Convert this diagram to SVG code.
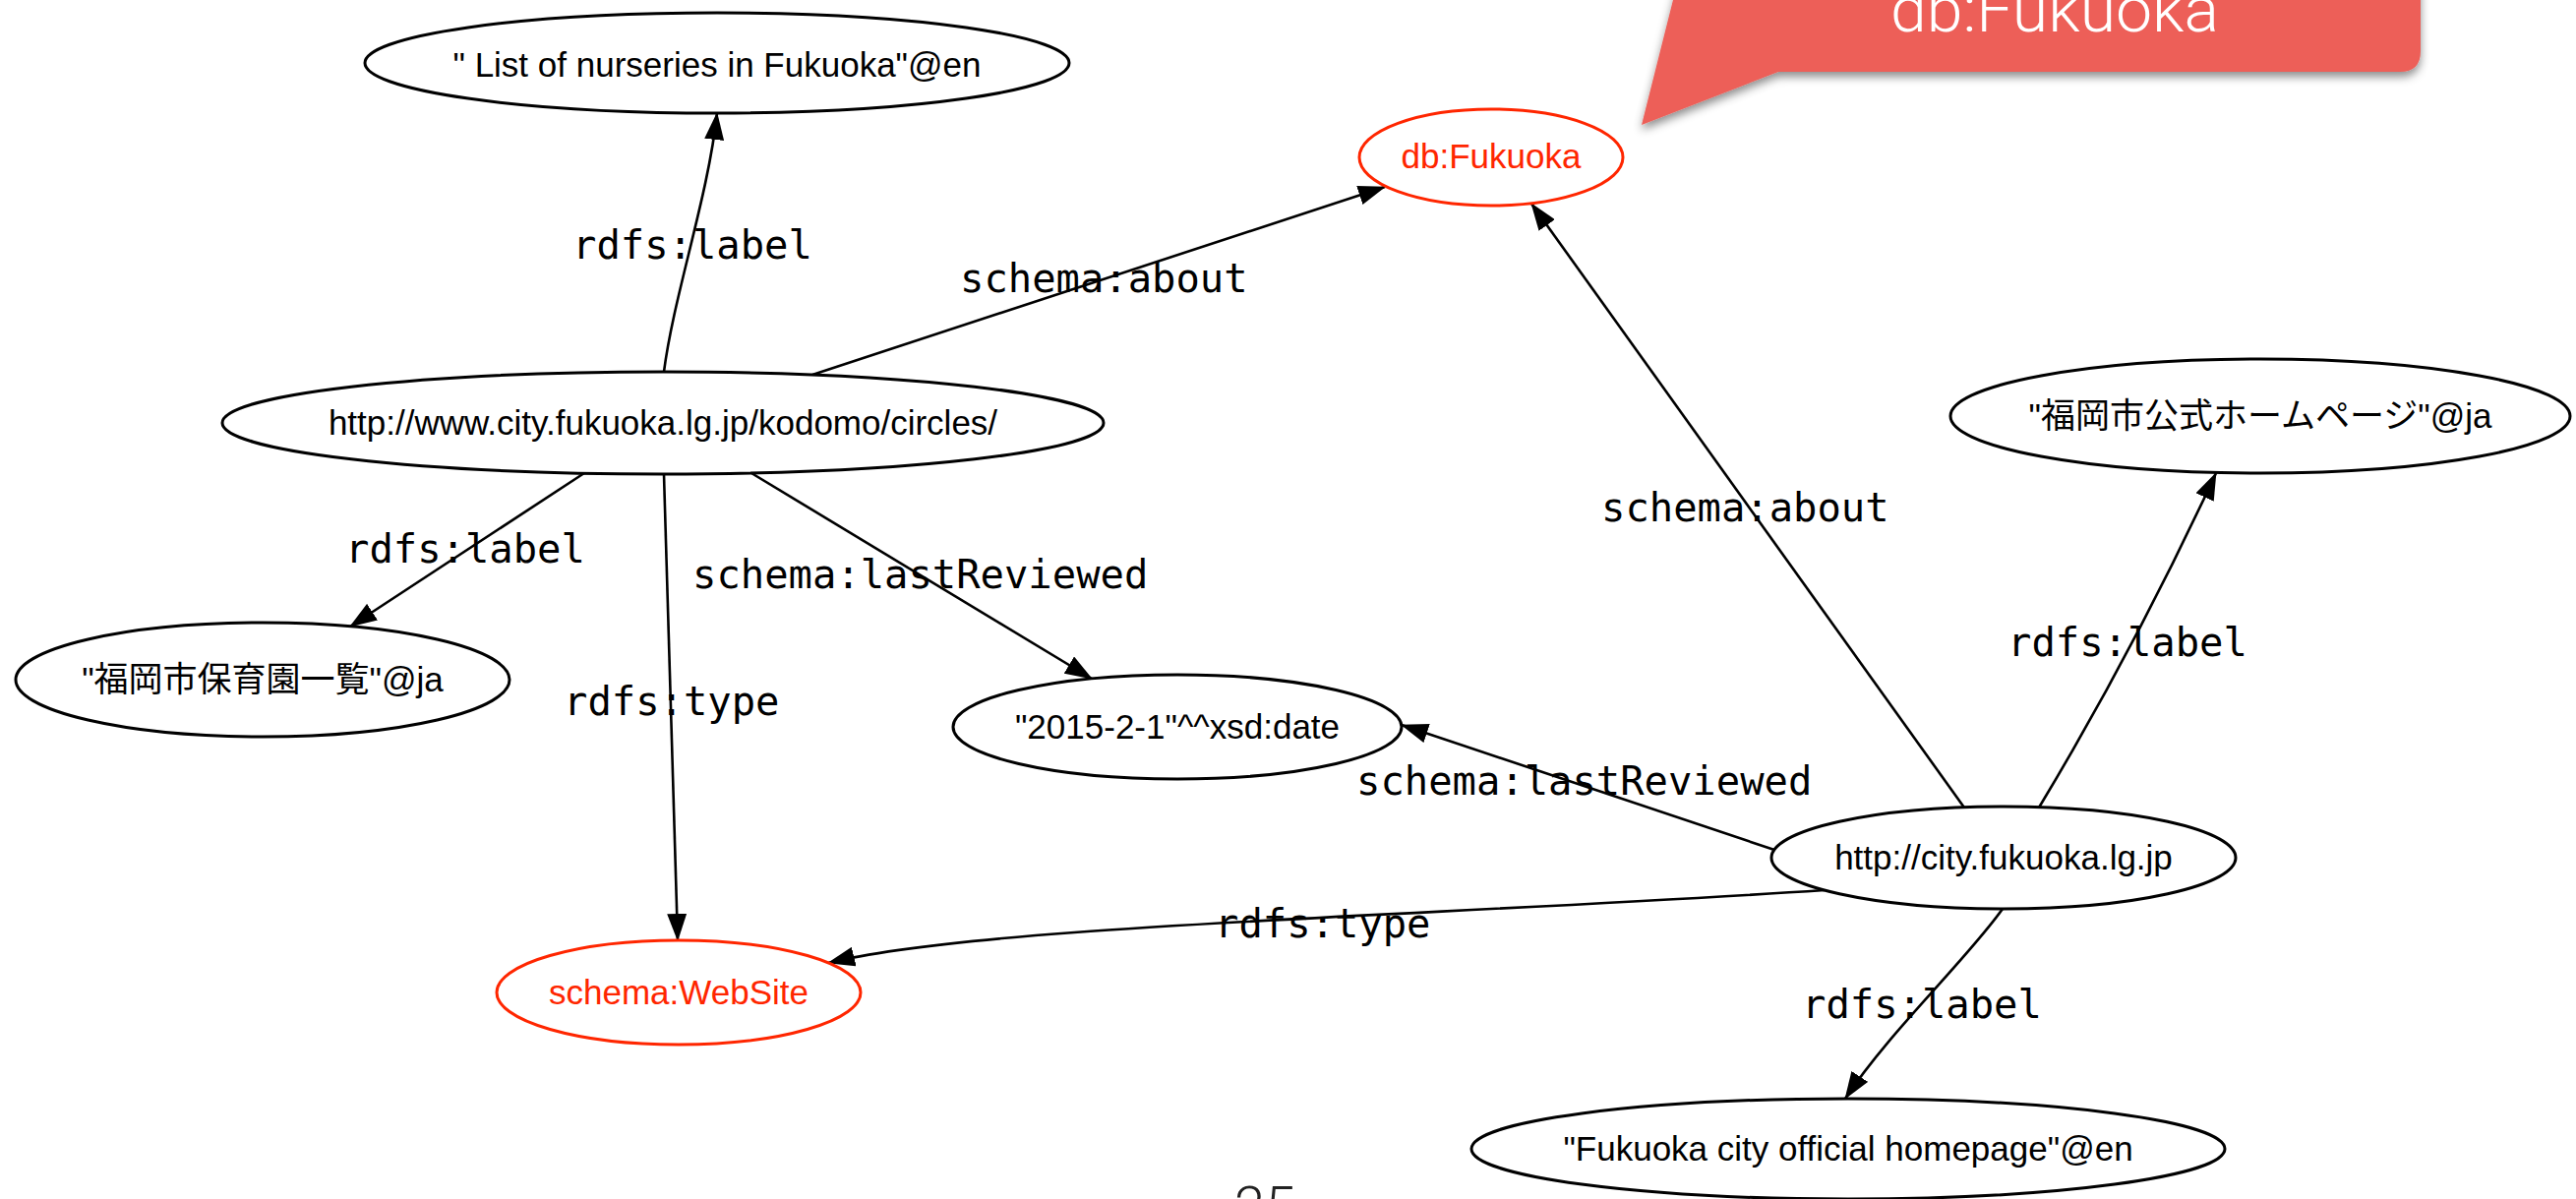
<svg xmlns="http://www.w3.org/2000/svg" width="2619" height="1219" viewBox="0 0 2619 1219">
<style>
  .node ellipse { fill: #ffffff; stroke: #000000; stroke-width: 3; }
  .node.red ellipse { stroke: #FF2600; }
  .node text { font-family: "Liberation Sans", "Noto Sans CJK JP", sans-serif; font-size: 35px; text-anchor: middle; fill: #000000; }
  .node.red text { fill: #FF2600; }
  .edge { fill: none; stroke: #000000; stroke-width: 2.6; marker-end: url(#arr); }
  .elabel { font-family: "DejaVu Sans Mono", monospace; font-size: 40.5px; fill: #000000; }
</style>
<defs>
  <marker id="arr" markerUnits="userSpaceOnUse" viewBox="0 0 28 20" markerWidth="28" markerHeight="20" refX="27" refY="10" orient="auto">
    <path d="M0,0 L28,10 L0,20 z" fill="#000000"/>
  </marker>
  <filter id="shadow" x="-10%" y="-50%" width="120%" height="200%">
    <feDropShadow dx="0" dy="5" stdDeviation="5" flood-color="#000000" flood-opacity="0.45"/>
  </filter>
</defs>
<rect width="2619" height="1219" fill="#ffffff"/>

<g id="callout">
  <path d="M1669,127 L1706,-20 L2461,-20 L2461,52 Q2461,73 2440,73 L1808,73 Z" fill="#ED5F58" filter="url(#shadow)"/>
  <text x="2089" y="32" font-family="Roboto, 'Liberation Sans', sans-serif" font-weight="300" font-size="64" fill="#ffffff" text-anchor="middle" textLength="334" lengthAdjust="spacingAndGlyphs">db:Fukuoka</text>
</g>

<g id="connectors">
  <path class="edge" d="M675,378 C685,300 720,200 729,115"/>
  <path class="edge" d="M826,381 L1408,190"/>
  <path class="edge" d="M594,481 L356,637"/>
  <path class="edge" d="M675,482 L689,956"/>
  <path class="edge" d="M764,481 L1110,690"/>
  <path class="edge" d="M1997,821 L1557,207"/>
  <path class="edge" d="M2073,821 Q2170,660 2253,481"/>
  <path class="edge" d="M1804,864 L1425,737"/>
  <path class="edge" d="M1855,905 C1450,932 1000,940 842,979"/>
  <path class="edge" d="M2036,924 C2000,975 1920,1050 1876,1117"/>
</g>

<g id="edge-labels">
  <text class="elabel" x="582" y="263">rdfs:label</text>
  <text class="elabel" x="976" y="297">schema:about</text>
  <text class="elabel" x="351" y="572">rdfs:label</text>
  <text class="elabel" x="704" y="598">schema:lastReviewed</text>
  <text class="elabel" x="573" y="727">rdfs:type</text>
  <text class="elabel" x="1628" y="530">schema:about</text>
  <text class="elabel" x="2041" y="667">rdfs:label</text>
  <text class="elabel" x="1379" y="808">schema:lastReviewed</text>
  <text class="elabel" x="1235" y="953">rdfs:type</text>
  <text class="elabel" x="1832" y="1035">rdfs:label</text>
</g>

<g id="n-list-en" class="node">
  <ellipse cx="729" cy="64" rx="358" ry="51"/>
  <text x="729" y="78">" List of nurseries in Fukuoka"@en</text>
</g>
<g id="n-db-fukuoka" class="node red">
  <ellipse cx="1516" cy="160" rx="134" ry="49"/>
  <text x="1516" y="171">db:Fukuoka</text>
</g>
<g id="n-kodomo" class="node">
  <ellipse cx="674" cy="430" rx="448" ry="52"/>
  <text x="674" y="442">http://www.city.fukuoka.lg.jp/kodomo/circles/</text>
</g>
<g id="n-list-ja" class="node">
  <ellipse cx="267" cy="691" rx="251" ry="58"/>
  <text x="267" y="703">"福岡市保育園一覧"@ja</text>
</g>
<g id="n-date" class="node">
  <ellipse cx="1197" cy="739" rx="228" ry="53"/>
  <text x="1197" y="751">"2015-2-1"^^xsd:date</text>
</g>
<g id="n-website" class="node red">
  <ellipse cx="690" cy="1009" rx="185" ry="53"/>
  <text x="690" y="1021">schema:WebSite</text>
</g>
<g id="n-city" class="node">
  <ellipse cx="2037" cy="872" rx="236" ry="52"/>
  <text x="2037" y="884">http://city.fukuoka.lg.jp</text>
</g>
<g id="n-home-ja" class="node">
  <ellipse cx="2298" cy="423" rx="315" ry="58"/>
  <text x="2298" y="435">"福岡市公式ホームページ"@ja</text>
</g>
<g id="n-home-en" class="node">
  <ellipse cx="1879" cy="1168" rx="383" ry="51"/>
  <text x="1879" y="1180">"Fukuoka city official homepage"@en</text>
</g>

<text id="page-number" x="1286" y="1246" font-family="Roboto, 'Liberation Sans', sans-serif" font-weight="300" font-size="56" fill="#222222" text-anchor="middle">25</text>
</svg>
